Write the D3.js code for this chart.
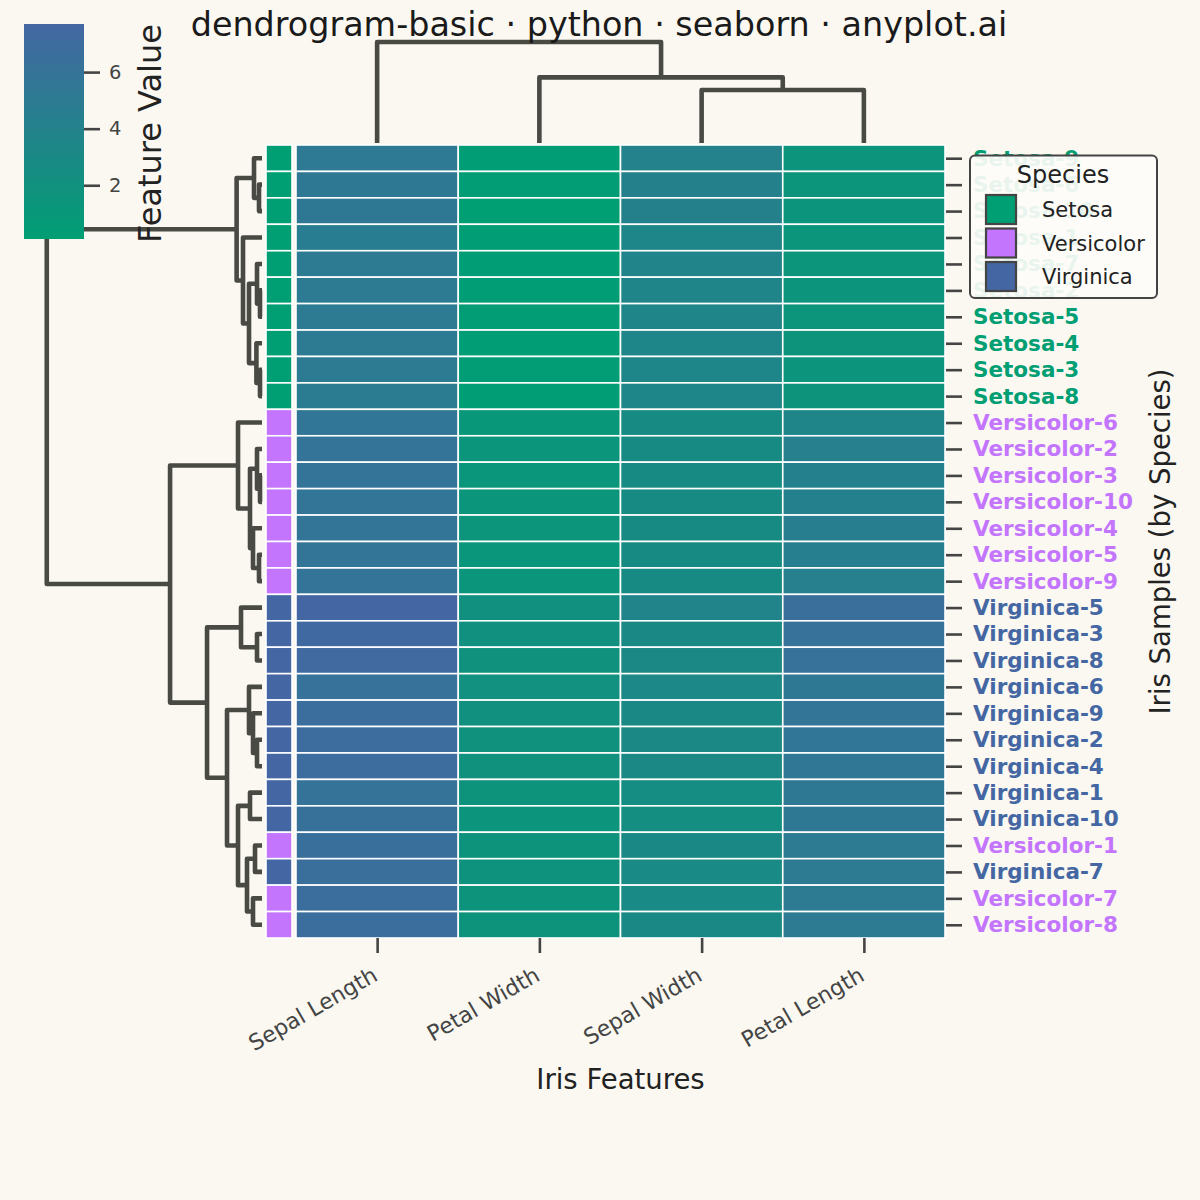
<!DOCTYPE html>
<html><head><meta charset="utf-8">
<script src="https://cdn.jsdelivr.net/npm/d3@7"></script>
<style>
body{margin:0;background:#FAF8F1;}
svg{display:block;font-family:"DejaVu Sans",sans-serif;}
</style>
</head><body>
<svg id="chart" width="1200" height="1200"></svg>
<script>
// ---------------- data ----------------
const speciesNames = ["Setosa","Versicolor","Virginica"];
const speciesColors = ["#009E73","#C475FD","#4467A3"];
const featureNames = ["Sepal Length","Sepal Width","Petal Length","Petal Width"];
const samples = [
  "Setosa-1","Setosa-2","Setosa-3","Setosa-4","Setosa-5","Setosa-6","Setosa-7","Setosa-8","Setosa-9","Setosa-10",
  "Versicolor-1","Versicolor-2","Versicolor-3","Versicolor-4","Versicolor-5","Versicolor-6","Versicolor-7","Versicolor-8","Versicolor-9","Versicolor-10",
  "Virginica-1","Virginica-2","Virginica-3","Virginica-4","Virginica-5","Virginica-6","Virginica-7","Virginica-8","Virginica-9","Virginica-10"
];
const sepalLength = [4.7,5.0,5.0,5.1,5.0,5.3,5.1,4.9,5.2,5.3, 6.5,5.9,5.9,5.8,5.8,5.6,6.8,6.7,5.9,5.8, 6.1,6.9,7.4,6.9,7.7,6.2,6.6,7.3,6.7,6.3];
const sepalWidth  = [3.5,3.6,3.4,3.5,3.6,4.1,3.7,3.4,4.0,4.1, 3.0,2.8,2.8,2.8,2.8,2.7,2.9,3.0,2.8,2.7, 2.5,3.1,3.0,3.1,3.7,3.2,2.9,3.1,3.0,2.3];
const petalLength = [1.3,1.5,1.5,1.6,1.4,1.4,1.4,1.6,1.5,1.5, 5.0,4.3,4.2,4.5,4.4,3.6,5.0,5.0,4.3,4.2, 5.3,5.6,6.2,5.5,6.6,5.4,5.1,6.2,5.8,5.3];
const petalWidth  = [0.2,0.2,0.3,0.2,0.3,0.3,0.2,0.2,0.2,0.1, 1.6,1.3,1.2,1.4,1.2,1.0,1.6,1.6,1.3,1.3, 1.6,1.9,2.0,1.9,2.0,2.1,1.7,1.9,2.0,1.5];

// linkage trees: [left, right, merge height]
const rowTree = [
  [["Setosa-9",["Setosa-6","Setosa-10",0.15],0.4],
   ["Setosa-1",[["Setosa-7",["Setosa-2","Setosa-5",0.1],0.25],["Setosa-4",["Setosa-3","Setosa-8",0.1],0.28],0.65],0.95],1.27],
  [["Versicolor-6",[["Versicolor-2",["Versicolor-3","Versicolor-10",0.1],0.25],["Versicolor-4",["Versicolor-5","Versicolor-9",0.15],0.45],0.6],1.2],
   [["Virginica-5",["Virginica-3","Virginica-8",0.25],1.05],
    [["Virginica-6",["Virginica-9",["Virginica-2","Virginica-4",0.25],0.45],0.65],
     [["Virginica-1","Virginica-10",0.6],[["Versicolor-1","Virginica-7",0.35],["Versicolor-7","Versicolor-8",0.45],0.75],1.2],1.75],2.75],4.6],
  10.77];
const colTree = ["Sepal Length",["Petal Width",["Sepal Width","Petal Length",10.5],13.0],20.0];

// ---------------- helpers ----------------
const featureValues = {"Sepal Length":sepalLength,"Sepal Width":sepalWidth,"Petal Length":petalLength,"Petal Width":petalWidth};
function leaves(t){ return Array.isArray(t) ? leaves(t[0]).concat(leaves(t[1])) : [t]; }
const rowOrder = leaves(rowTree);
const colOrder = leaves(colTree);
const speciesOf = s => s.split("-")[0];
const spColor = d3.scaleOrdinal().domain(speciesNames).range(speciesColors);

const svg = d3.select("#chart");
const W = 1200, H = 1200;
svg.append("rect").attr("width",W).attr("height",H).attr("fill","#FAF8F1");

const hm = {x0:296, x1:945, y0:145, y1:938};
const xS = d3.scaleBand().domain(colOrder).range([hm.x0,hm.x1]);
const yS = d3.scaleBand().domain(rowOrder).range([hm.y0,hm.y1]);

const allVals = featureNames.flatMap(f=>featureValues[f]);
const ext = d3.extent(allVals);
const color = d3.scaleLinear().domain(ext).range(["#009E73","#4467A3"]).interpolate(d3.interpolateRgb);

// heatmap cells
const cells = [];
rowOrder.forEach(s=>{
  const i = samples.indexOf(s);
  colOrder.forEach(f=>cells.push({s,f,v:featureValues[f][i]}));
});
svg.append("g").selectAll("rect").data(cells).join("rect")
  .attr("x",d=>xS(d.f)).attr("y",d=>yS(d.s))
  .attr("width",xS.bandwidth()).attr("height",yS.bandwidth())
  .attr("fill",d=>color(d.v)).attr("stroke","#ffffff").attr("stroke-width",1.6);

// species strip
const stripX = d3.scaleBand().domain(["species"]).range([266,292]);
svg.append("g").selectAll("rect").data(rowOrder).join("rect")
  .attr("x",stripX("species")).attr("y",d=>yS(d))
  .attr("width",stripX.bandwidth()).attr("height",yS.bandwidth())
  .attr("fill",d=>spColor(speciesOf(d))).attr("stroke","#ffffff").attr("stroke-width",1.6);

// dendrogram drawing
const lineColor = "#4A4A45";
function layout(t, pos){
  if(!Array.isArray(t)) return {p:pos(t), h:0};
  const a = layout(t[0],pos), b = layout(t[1],pos);
  links.push({a,b,h:t[2]});
  return {p:(a.p+b.p)/2, h:t[2]};
}
let links = [];
const rowPos = s => yS(s)+yS.bandwidth()/2;
layout(rowTree,rowPos);
const rowLinks = links;
const hRow = d3.scaleLinear().domain([0, rowTree[2]*1.05]).range([262,36]);
svg.append("g").selectAll("path").data(rowLinks).join("path")
  .attr("d",d=>`M${hRow(d.a.h)},${d.a.p}H${hRow(d.h)}V${d.b.p}H${hRow(d.b.h)}`)
  .attr("fill","none").attr("stroke",lineColor).attr("stroke-width",4.6)
  .attr("stroke-linejoin","round").attr("stroke-linecap","butt");

links = [];
const colPos = f => xS(f)+xS.bandwidth()/2;
layout(colTree,colPos);
const colLinks = links;
const hCol = d3.scaleLinear().domain([0, colTree[2]*1.05]).range([143,37]);
svg.append("g").selectAll("path").data(colLinks).join("path")
  .attr("d",d=>`M${d.a.p},${hCol(d.a.h)}V${hCol(d.h)}H${d.b.p}V${hCol(d.b.h)}`)
  .attr("fill","none").attr("stroke",lineColor).attr("stroke-width",4.6)
  .attr("stroke-linejoin","round").attr("stroke-linecap","butt");

// right axis (row labels)
const yPoint = d3.scalePoint().domain(rowOrder).range([rowPos(rowOrder[0]), rowPos(rowOrder[rowOrder.length-1])]);
const yAx = svg.append("g").attr("transform",`translate(${hm.x1+1},0)`)
  .call(d3.axisRight(yPoint).tickSize(16).tickPadding(11));
yAx.select(".domain").remove();
yAx.selectAll(".tick line").attr("stroke","#444").attr("stroke-width",2.6);
yAx.selectAll(".tick text").attr("font-size",21.5).attr("font-weight","bold")
  .attr("font-family","DejaVu Sans").attr("fill",d=>spColor(speciesOf(d)));

// bottom axis (features)
const xPoint = d3.scalePoint().domain(colOrder).range([colPos(colOrder[0]), colPos(colOrder[colOrder.length-1])]);
const xAx = svg.append("g").attr("transform",`translate(0,${hm.y1})`)
  .call(d3.axisBottom(xPoint).tickSize(15).tickPadding(8));
xAx.select(".domain").remove();
xAx.selectAll(".tick line").attr("stroke","#444").attr("stroke-width",2.6);
xAx.selectAll(".tick text").attr("font-size",22).attr("font-family","DejaVu Sans").attr("fill","#444")
  .attr("text-anchor","end").attr("y",0).attr("dy","0.76em")
  .attr("transform","translate(-7,27) rotate(-30)");

// axis titles
svg.append("text").attr("x",(hm.x0+hm.x1)/2).attr("y",1089).attr("text-anchor","middle")
  .attr("font-size",27.5).attr("fill","#222").text("Iris Features");
svg.append("text").attr("transform",`translate(1170,${(hm.y0+hm.y1)/2}) rotate(-90)`)
  .attr("text-anchor","middle").attr("font-size",27.5).attr("fill","#222").text("Iris Samples (by Species)");

// title
svg.append("text").attr("x",599).attr("y",36).attr("text-anchor","middle")
  .attr("font-size",33.4).attr("fill","#1a1a1a").text("dendrogram-basic · python · seaborn · anyplot.ai");

// colorbar
const cb = {x:24, y:24, w:60, h:215};
const grad = svg.append("defs").append("linearGradient").attr("id","cbg")
  .attr("x1",0).attr("y1",1).attr("x2",0).attr("y2",0);
d3.range(0,1.0001,0.1).forEach(t=>{
  grad.append("stop").attr("offset",t).attr("stop-color",color(ext[0]+t*(ext[1]-ext[0])));
});
svg.append("rect").attr("x",cb.x).attr("y",cb.y).attr("width",cb.w).attr("height",cb.h).attr("fill","url(#cbg)");
const cbScale = d3.scaleLinear().domain(ext).range([cb.y+cb.h, cb.y]);
const cbAx = svg.append("g").attr("transform",`translate(${cb.x+cb.w},0)`)
  .call(d3.axisRight(cbScale).tickValues([2,4,6]).tickFormat(d3.format("d")).tickSize(16).tickPadding(9));
cbAx.select(".domain").remove();
cbAx.selectAll(".tick line").attr("stroke","#444").attr("stroke-width",2.6);
cbAx.selectAll(".tick text").attr("font-size",19.5).attr("font-family","DejaVu Sans").attr("fill","#444");
svg.append("text").attr("transform",`translate(161,${cb.y+cb.h/2 + 2}) rotate(-90)`)
  .attr("text-anchor","middle").attr("font-size",32).attr("fill","#222").text("Feature Value");

// legend
const lg = svg.append("g");
lg.append("rect").attr("x",970).attr("y",155.5).attr("width",187).attr("height",142.5).attr("rx",5)
  .attr("fill","#FDFCF8").attr("fill-opacity",0.92).attr("stroke","#444").attr("stroke-width",2);
lg.append("text").attr("x",1063).attr("y",183).attr("text-anchor","middle").attr("font-size",24).attr("fill","#222").text("Species");
const lgY = d3.scalePoint().domain(speciesNames).range([209.5,276.5]);
lg.selectAll("rect.p").data(speciesNames).join("rect").attr("class","p")
  .attr("x",986).attr("y",d=>lgY(d)-14.5).attr("width",30).attr("height",29)
  .attr("fill",d=>spColor(d)).attr("stroke","#444").attr("stroke-width",2.2);
lg.selectAll("text.l").data(speciesNames).join("text").attr("class","l")
  .attr("x",1042).attr("y",d=>lgY(d)).attr("dy","0.36em").attr("font-size",21).attr("fill","#222").text(d=>d);
</script>
</body></html>
